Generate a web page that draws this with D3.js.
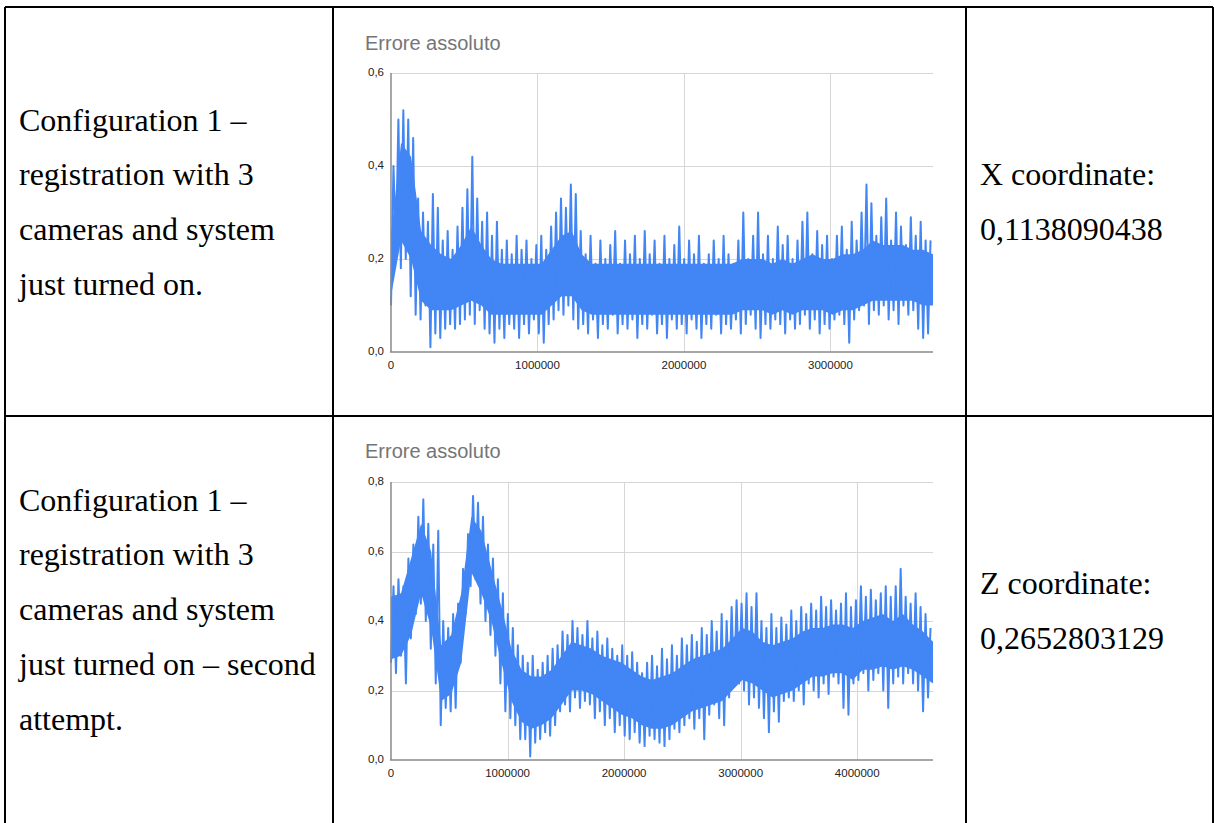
<!DOCTYPE html>
<html>
<head>
<meta charset="utf-8">
<script src="https://cdn.jsdelivr.net/npm/d3@7"></script>
<style>
  body { margin: 0; background: #fff; }
  svg { display: block; }
</style>
</head>
<body>
<script>
var width = 1214;
var height = 823;

// cell texts
var row1Left = ["Configuration 1 \u2013", "registration with 3", "cameras and system", "just turned on."];
var row2Left = ["Configuration 1 \u2013", "registration with 3", "cameras and system", "just turned on \u2013 second", "attempt."];
var row1Right = ["X coordinate:", "0,1138090438"];
var row2Right = ["Z coordinate:", "0,2652803129"];
var chartTitle = "Errore assoluto";

// chart 1 - peak / trough of the absolute error per slice
var c1XMax = 3700000;
var c1YTicks = [0, 0.2, 0.4, 0.6];
var c1XTicks = [0, 1000000, 2000000, 3000000];
var c1High = [.40,.50,.52,.50,.46,.33,.30,.28,.34,.31, .24,.26,.22,.27,.31,.35,.42,.33,.28,.30,
              .25,.28,.22,.24,.21,.25,.22,.24,.20,.23, .25,.22,.27,.30,.33,.31,.36,.34,.26,
              .21,.25,.19,.24,.20,.23,.26,.19,.24,.21, .25,.20,.26,.21,.24,.19,.25,.20,.23,.27,
              .20,.24,.21,.25,.19,.21,.24,.20,.25,.21, .19,.24,.30,.20,.25,.30,.21,.25,.20,.27,
              .23,.25,.20,.24,.28,.30,.21,.26,.23,.25, .20,.25,.27,.22,.28,.24,.30,.36,.32,.25,
              .29,.33,.24,.30,.27,.23,.29,.25,.28,.24,.24];
var c1Low  = [.10,.22,.18,.20,.12,.08,.07,.10,.01,.04, .03,.05,.06,.05,.06,.07,.08,.06,.09,.05,
              .04,.02,.05,.03,.06,.05,.03,.06,.04,.07, .04,.02,.06,.07,.09,.08,.10,.07,.05,
              .06,.04,.07,.03,.06,.05,.08,.04,.06,.05, .07,.03,.06,.05,.08,.04,.06,.03,.07,.05,
              .06,.04,.07,.05,.03,.06,.05,.08,.04,.06, .05,.07,.04,.06,.08,.05,.03,.06,.05,.07,
              .06,.04,.07,.05,.06,.08,.05,.07,.04,.06, .05,.07,.08,.06,.02,.07,.09,.10,.06,.09,
              .08,.10,.07,.09,.06,.10,.08,.09,.05,.03,.04];
// dense core where the trace overlaps itself
var c1CoreHigh = [.25,.45,.42,.26,.23,.21,.20,.23,.27,.23, .20,.19,.19,.19,.19,.19,.22,.25,.26,.21,
                  .19,.19,.19,.19,.19,.19,.19,.19,.19,.19, .19,.19,.19,.19,.19,.20,.20,.20,.19,.20,
                  .19,.20,.21,.20,.20,.21,.21,.22,.24,.23, .23,.23,.22,.22,.21];
var c1CoreLow  = [.12,.24,.20,.11,.09,.09,.09,.10,.11,.10, .08,.08,.08,.08,.08,.08,.10,.12,.12,.09,
                  .08,.08,.08,.08,.08,.08,.08,.08,.08,.08, .08,.08,.08,.08,.08,.09,.09,.09,.08,.09,
                  .08,.09,.09,.09,.08,.09,.09,.10,.11,.11, .11,.11,.11,.10,.10];

// chart 2
var c2XMax = 4650000;
var c2YTicks = [0, 0.2, 0.4, 0.6, 0.8];
var c2XTicks = [0, 1000000, 2000000, 3000000, 4000000];
var c2High = [.50,.52,.50,.58,.62,.70,.75,.68,.62,.66, .40,.38,.42,.45,.55,.65,.76,.74,.70,.62,
              .58,.52,.48,.42,.38,.33,.30,.28,.30,.26, .28,.30,
              .32,.33,.37,.36,.40,.38,.36,.40,.35,.37, .33,.35,.32,.30,.33,.30,.31,.28,.25,.28,
              .30,.27,.32,.29,.33,.30,.35,.33,.36,.34, .38,.36,.40,.37,.42,.40,.44,.46,.45,.48,
              .44,.48,.40,.38,.42,.38,.41,.39,.43,.40, .44,.42,.45,.43,.47,.44,.46,.43,.45,.48,
              .44,.46,.50,.47,.49,.46,.48,.50,.47,.50, .55,.47,.45,.48,.44,.42,.38];
var c2Low  = [.28,.25,.30,.22,.35,.42,.45,.40,.32,.22, .10,.15,.14,.15,.28,.42,.50,.52,.45,.40,
              .36,.30,.22,.14,.12,.10,.06,.06,.01,.05, .06,.08,
              .07,.10,.14,.16,.14,.18,.15,.17,.16,.12, .14,.10,.12,.08,.10,.07,.06,.08,.05,.04,
              .07,.06,.05,.04,.06,.09,.08,.10,.12,.09, .12,.06,.13,.16,.12,.10,.18,.21,.22,.20,
              .16,.18,.15,.12,.08,.14,.11,.17,.18,.17, .20,.16,.22,.20,.18,.22,.19,.24,.22,.15,
              .13,.22,.23,.25,.20,.23,.25,.20,.15,.22, .24,.22,.25,.22,.20,.14,.18];
var c2CoreHigh = [.47,.48,.58,.68,.60,.33,.36,.48,.70,.66, .55,.44,.32,.26,.24,.24,.26,.30,.34,.33,
                  .32,.30,.29,.28,.26,.24,.23,.24,.25,.27, .29,.30,.31,.32,.35,.38,.37,.34,.33,.34,
                  .35,.37,.38,.38,.39,.39,.38,.40,.41,.42, .40,.42,.39,.37,.34];
var c2CoreLow  = [.29,.30,.36,.48,.38,.17,.19,.28,.54,.48, .40,.28,.17,.11,.09,.10,.12,.16,.20,.20,
                  .19,.17,.15,.13,.12,.10,.09,.09,.10,.12, .14,.15,.16,.17,.20,.23,.22,.20,.18,.19,
                  .20,.22,.24,.24,.25,.25,.23,.26,.26,.27, .26,.27,.26,.24,.22];

var locale = d3.formatLocale({ decimal: ",", thousands: "", grouping: [3], currency: ["", ""] });
var fmtY = locale.format(".1f");
var fmtX = locale.format("d");

var svg = d3.select("body").append("svg")
    .attr("width", width)
    .attr("height", height);

// table frame
var frame = svg.append("g")
    .attr("stroke", "#000")
    .attr("stroke-width", 2)
    .attr("shape-rendering", "crispEdges");
[[5, 7, 1213, 7], [5, 415.5, 1213, 415.5],
 [5, 7, 5, 823], [333, 7, 333, 823], [966, 7, 966, 823], [1213, 7, 1213, 823]]
    .forEach(function(l) {
        frame.append("line").attr("x1", l[0]).attr("y1", l[1]).attr("x2", l[2]).attr("y2", l[3]);
    });

// serif cell texts
function cellText(lines, x, y0, step) {
    svg.append("g").selectAll("text")
        .data(lines)
        .enter()
        .append("text")
        .attr("x", x)
        .attr("y", function(d, i) { return y0 + i * step; })
        .style("font-family", "'Liberation Serif', 'Times New Roman', serif")
        .style("font-size", "32px")
        .style("fill", "#000")
        .text(function(d) { return d; });
}
cellText(row1Left, 19, 130.5, 54.8);
cellText(row2Left, 19, 510.5, 54.8);
cellText(row1Right, 980, 185, 55);
cellText(row2Right, 980, 594, 55);

// one google-style line chart
function drawChart(opt) {
    var g = svg.append("g");
    var x = d3.scaleLinear().domain([0, opt.xMax]).range([391, 933]);
    var y = d3.scaleLinear().domain([0, opt.yTicks[opt.yTicks.length - 1]]).range([opt.bottom, opt.top]);

    g.append("text")
        .attr("x", 365)
        .attr("y", opt.titleY)
        .style("font-family", "'Liberation Sans', Arial, sans-serif")
        .style("font-size", "20px")
        .style("fill", "#757575")
        .text(chartTitle);

    // gridlines
    g.append("g").selectAll("line.h")
        .data(opt.yTicks.slice(1))
        .enter().append("line")
        .attr("x1", 391).attr("x2", 933)
        .attr("y1", function(d) { return Math.round(y(d)) + 0.5; })
        .attr("y2", function(d) { return Math.round(y(d)) + 0.5; })
        .attr("stroke", "#d6d6d6");
    g.append("g").selectAll("line.v")
        .data(opt.xTicks.slice(1))
        .enter().append("line")
        .attr("y1", opt.top).attr("y2", opt.bottom)
        .attr("x1", function(d) { return Math.round(x(d)) + 0.5; })
        .attr("x2", function(d) { return Math.round(x(d)) + 0.5; })
        .attr("stroke", "#d6d6d6");

    // dense core of the trace
    var coreStep = opt.xMax / (opt.coreHigh.length - 1);
    var area = d3.area()
        .x(function(d, i) { return x(i * coreStep); })
        .y0(function(d, i) { return y(opt.coreLow[i]); })
        .y1(function(d) { return y(d); });
    g.append("path")
        .datum(opt.coreHigh)
        .attr("d", area)
        .attr("fill", "#4285f4");

    // series: peak/trough zigzag
    var step = opt.xMax / opt.high.length;
    var pts = [];
    opt.high.forEach(function(h, i) {
        pts.push([i * step, opt.low[i]]);
        pts.push([(i + 0.5) * step, h]);
    });
    var line = d3.line()
        .x(function(d) { return x(d[0]); })
        .y(function(d) { return y(d[1]); });
    g.append("path")
        .datum(pts)
        .attr("d", line)
        .attr("fill", "none")
        .attr("stroke", "#4285f4")
        .attr("stroke-width", 2)
        .attr("stroke-linejoin", "round");

    // axes lines
    g.append("line")
        .attr("x1", 391).attr("x2", 391)
        .attr("y1", opt.top).attr("y2", opt.bottom)
        .attr("stroke", "#8a8a8a").attr("stroke-width", 1.5);
    g.append("line")
        .attr("x1", 390).attr("x2", 933)
        .attr("y1", opt.bottom).attr("y2", opt.bottom)
        .attr("stroke", "#8a8a8a").attr("stroke-width", 1.5);

    // tick labels
    g.append("g").selectAll("text")
        .data(opt.yTicks)
        .enter().append("text")
        .attr("x", 384)
        .attr("y", function(d) { return y(d); })
        .attr("dy", "0.3em")
        .attr("text-anchor", "end")
        .style("font-family", "'Liberation Sans', Arial, sans-serif")
        .style("font-size", "11.5px")
        .style("fill", "#222")
        .text(fmtY);
    g.append("g").selectAll("text")
        .data(opt.xTicks)
        .enter().append("text")
        .attr("x", function(d) { return x(d); })
        .attr("y", opt.bottom + 16.5)
        .attr("text-anchor", "middle")
        .style("font-family", "'Liberation Sans', Arial, sans-serif")
        .style("font-size", "11.5px")
        .style("fill", "#222")
        .text(fmtX);
}

drawChart({ xMax: c1XMax, yTicks: c1YTicks, xTicks: c1XTicks, high: c1High, low: c1Low,
            coreHigh: c1CoreHigh, coreLow: c1CoreLow, top: 73, bottom: 352, titleY: 50 });
drawChart({ xMax: c2XMax, yTicks: c2YTicks, xTicks: c2XTicks, high: c2High, low: c2Low,
            coreHigh: c2CoreHigh, coreLow: c2CoreLow, top: 482, bottom: 760, titleY: 458 });
</script>
</body>
</html>
